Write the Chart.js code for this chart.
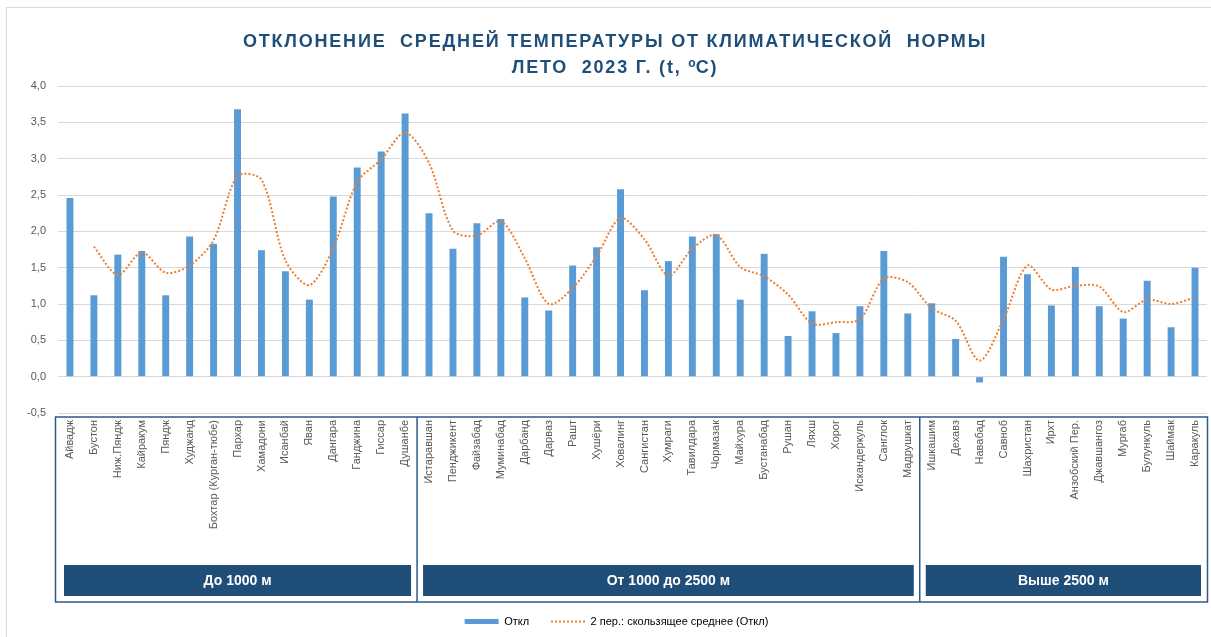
<!DOCTYPE html>
<html>
<head>
<meta charset="utf-8">
<script src="https://cdn.jsdelivr.net/npm/chart.js@4.4.1/dist/chart.umd.min.js"></script>
<style>
    html, body { margin: 0; padding: 0; background: #fff; }
    #wrap  { position: relative; width: 1211px; height: 637px; overflow: hidden; }
    #frame { position: absolute; left: 6px; top: 7px; width: 1230px; height: 660px;
             border: 1px solid #D9D9D9; box-sizing: border-box; }
    #title { position: absolute; left: 0; top: 30px; width: 1230px; text-align: center;
             font-family: "Liberation Sans", Arial, sans-serif; font-weight: bold;
             font-size: 18px; letter-spacing: 1.8px; line-height: 22px;
             color: #1F4E79; white-space: pre; }
    #title sup { font-size: 12px; vertical-align: 6px; letter-spacing: 0; }
    #box   { position: absolute; left: 0; top: 0; width: 1211px; height: 637px; }
</style>
</head>
<body>
<div id="wrap">
    <div id="frame"></div>
    <div id="box"><canvas id="chart"></canvas></div>
    <div id="title">ОТКЛОНЕНИЕ  СРЕДНЕЙ ТЕМПЕРАТУРЫ ОТ КЛИМАТИЧЕСКОЙ  НОРМЫ
ЛЕТО  2023 Г. (t, <sup>o</sup>C)</div>
</div>

<script>
// ---- Data ----
const stations = [
    "Айвадж", "Бустон", "Ниж.Пяндж", "Кайракум", "Пяндж", "Худжанд", "Бохтар (Курган-тюбе)",
    "Пархар", "Хамадони", "Исанбай", "Яван", "Дангара", "Ганджина", "Гиссар", "Душанбе",
    "Истаравшан", "Пенджикент", "Файзабад", "Муминабад", "Дарбанд", "Дарваз", "Рашт",
    "Хушёри", "Ховалинг", "Сангистан", "Хумраги", "Тавилдара", "Чормазак", "Майхура",
    "Бустанабад", "Рушан", "Ляхш", "Хорог", "Искандеркуль", "Санглок", "Мадрушкат",
    "Ишкашим", "Дехавз", "Навабад", "Савноб", "Шахристан", "Ирхт", "Анзобский Пер.",
    "Джавшангоз", "Мургаб", "Булункуль", "Шаймак", "Каракуль"
];

const deviation = [
    2.46, 1.12, 1.68, 1.73, 1.12, 1.93, 1.83, 3.68, 1.74, 1.45, 1.06, 2.48, 2.88, 3.10, 3.62,
    2.25, 1.76, 2.11, 2.17, 1.09, 0.91, 1.53, 1.78, 2.58, 1.19, 1.59, 1.93, 1.96, 1.06,
    1.69, 0.56, 0.90, 0.60, 0.97, 1.73, 0.87,
    1.01, 0.52, -0.08, 1.65, 1.41, 0.98, 1.51, 0.97, 0.80, 1.32, 0.68, 1.50
];

// 2-period moving average line
const movingAvg = [
    null, 1.79, 1.40, 1.71, 1.43, 1.53, 1.88, 2.76, 2.71, 1.60, 1.26, 1.77, 2.68, 2.99, 3.36,
    2.94, 2.01, 1.94, 2.14, 1.63, 1.00, 1.22, 1.66, 2.18, 1.89, 1.39, 1.76, 1.95, 1.51,
    1.38, 1.13, 0.73, 0.75, 0.79, 1.35, 1.30,
    0.94, 0.77, 0.22, 0.79, 1.53, 1.20, 1.25, 1.24, 0.89, 1.06, 1.00, 1.09
];

const groupNames = ["До 1000 м", "От 1000 до 2500 м", "Выше 2500 м"];
const groupSizes = [15, 21, 12];

const seriesNames = ["Откл", "2 пер.: скользящее среднее (Откл)"];

const BAR_COLOR  = "#5B9BD5";
const LINE_COLOR = "#ED7D31";
const DARK_BLUE  = "#1F4E79";
const FONT = "'Liberation Sans', Arial, sans-serif";

// ---- Altitude group boxes under the axis labels ----
const altitudeGroups = {
    id: "altitudeGroups",
    afterDraw(chart) {
        const { ctx } = chart;
        const x = chart.scales.x;
        const step = x.width / stations.length;
        const top = x.top + 4;
        const bottom = x.top + 189;

        ctx.save();
        ctx.strokeStyle = "#2E5A87";
        ctx.lineWidth = 1.5;
        ctx.strokeRect(x.left - 2.5, top, x.right - x.left + 3, bottom - top);

        let start = 0;
        groupSizes.forEach((size, i) => {
            const x0 = x.left + start * step;
            const x1 = x.left + (start + size) * step;
            if (i > 0) {
                ctx.beginPath();
                ctx.moveTo(x0, top);
                ctx.lineTo(x0, bottom);
                ctx.stroke();
            }
            ctx.fillStyle = DARK_BLUE;
            ctx.fillRect(x0 + 6, bottom - 37, x1 - x0 - 12, 31);

            ctx.fillStyle = "#fff";
            ctx.font = "bold 14px " + FONT;
            ctx.textAlign = "center";
            ctx.textBaseline = "middle";
            ctx.fillText(groupNames[i], (x0 + x1) / 2, bottom - 21);
            start += size;
        });
        ctx.restore();
    }
};

new Chart(document.getElementById("chart"), {
    type: "bar",
    data: {
        labels: stations,
        datasets: [
            {
                type: "bar",
                label: seriesNames[0],
                data: deviation,
                backgroundColor: BAR_COLOR,
                barPercentage: 1,
                categoryPercentage: 0.29,
                order: 1
            },
            {
                type: "line",
                label: seriesNames[1],
                data: movingAvg,
                borderColor: LINE_COLOR,
                borderWidth: 2,
                borderDash: [2, 2],
                pointRadius: 0,
                tension: 0.3,
                fill: false,
                order: 0
            }
        ]
    },
    options: {
        responsive: true,
        maintainAspectRatio: false,
        animation: false,
        layout: { padding: { left: 26, right: 4, top: 86, bottom: 0 } },
        scales: {
            y: {
                min: -0.5,
                max: 4,
                border: { display: false },
                grid: { color: "#D9D9D9", drawTicks: false },
                ticks: {
                    stepSize: 0.5,
                    padding: 12,
                    color: "#595959",
                    font: { family: FONT, size: 11 },
                    callback: v => v.toFixed(1).replace(".", ",")
                },
                afterFit: s => { s.width = 32; }
            },
            x: {
                border: { display: false },
                grid: { display: false, drawTicks: false },
                ticks: {
                    autoSkip: false,
                    minRotation: 90,
                    maxRotation: 90,
                    padding: 7,
                    color: "#595959",
                    font: { family: FONT, size: 11 }
                },
                afterFit: s => {
                    s.height = 181;
                    s.paddingLeft = 0;
                    s.paddingRight = 0;
                }
            }
        },
        plugins: {
            title: { display: false },
            tooltip: { enabled: false },
            legend: {
                position: "bottom",
                labels: {
                    usePointStyle: true,
                    pointStyleWidth: 34,
                    boxHeight: 5,
                    padding: 22,
                    color: "#595959",
                    font: { family: FONT, size: 11 },
                    generateLabels: () => [
                        {
                            text: seriesNames[0], pointStyle: "rect",
                            fillStyle: BAR_COLOR, strokeStyle: BAR_COLOR,
                            lineWidth: 0, datasetIndex: 0
                        },
                        {
                            text: seriesNames[1], pointStyle: "line",
                            fillStyle: LINE_COLOR, strokeStyle: LINE_COLOR,
                            lineWidth: 2, lineDash: [2, 2], datasetIndex: 1
                        }
                    ]
                }
            }
        }
    },
    plugins: [altitudeGroups]
});
</script>
</body>
</html>
